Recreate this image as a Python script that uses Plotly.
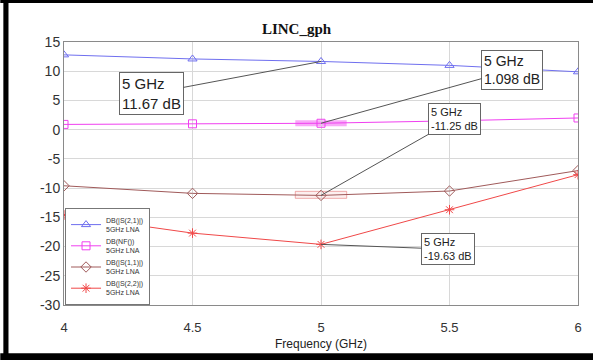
import plotly.graph_objects as go

freq = [4.0, 4.5, 5.0, 5.5, 6.0]
s21 = [12.8, 12.1, 11.67, 11.0, 9.9]
nf = [0.9, 1.0, 1.098, 1.5, 2.0]
s11 = [-9.6, -10.9, -11.25, -10.5, -7.0]
s22 = [-14.6, -17.7, -19.63, -13.7, -7.7]

names = ["DB(|S(2,1)|)<br>5GHz LNA", "DB(NF())<br>5GHz LNA",
         "DB(|S(1,1)|)<br>5GHz LNA", "DB(|S(2,2)|)<br>5GHz LNA"]
colors = ["#6f6fef", "#f040f0", "#a05a5a", "#f04848"]
symbols = ["triangle-up-open", "square-open", "diamond-open", "asterisk-open"]
series = [s21, nf, s11, s22]

ytick_vals = [15, 10, 5, 0, -5, -10, -15, -20, -25, -30]
ytick_text = ["15", "10", "5", "0", "-5", "-10", "-15", "-20", "-25", "-30"]
xtick_vals = [4, 4.5, 5, 5.5, 6]
xtick_text = ["4", "4.5", "5", "5.5", "6"]

marker_freq = 5.0
marker_labels = ["5 GHz<br>11.67 dB", "5 GHz<br>1.098 dB", "5 GHz<br>-11.25 dB", "5 GHz<br>-19.63 dB"]
marker_vals = [11.67, 1.098, -11.25, -19.63]
label_pos = [(4.34, 6.2), (5.745, 10.2), (5.52, 1.75), (5.494, -20.45)]
label_size = [15, 14, 11, 11]

fig = go.Figure()
for ys, nm, c, sym in zip(series, names, colors, symbols):
    fig.add_trace(go.Scatter(
        x=freq, y=ys, name=nm, mode="lines+markers",
        line=dict(color=c, width=1),
        marker=dict(symbol=sym, size=8, color=c, line=dict(color=c, width=1)),
    ))

# highlight bars at marker positions
fig.add_shape(type="rect", xref="x", yref="y", x0=4.9, x1=5.1, y0=nf[2] - 0.5, y1=nf[2] + 0.5,
              fillcolor="rgba(240,64,240,0.45)", line=dict(width=0), layer="below")
fig.add_shape(type="rect", xref="x", yref="y", x0=4.9, x1=5.1, y0=s11[2] - 0.5, y1=s11[2] + 0.7,
              fillcolor="rgba(240,120,120,0.12)", line=dict(color="rgba(230,120,120,0.6)", width=1), layer="below")

for (lx, ly), txt, v, fs in zip(label_pos, marker_labels, marker_vals, label_size):
    fig.add_annotation(x=marker_freq, y=v, xref="x", yref="y", ax=lx, ay=ly, axref="x", ayref="y",
                       text=txt, showarrow=True, arrowhead=0, arrowwidth=1, arrowcolor="#555555",
                       standoff=0, startstandoff=0,
                       font=dict(family="Liberation Sans, Arial", size=fs, color="#222222"),
                       align="left", bgcolor="white", borderpad=2, borderwidth=1, bordercolor="#666666")

# outer frame lines
fig.add_shape(type="rect", xref="paper", yref="paper", x0=-0.124, x1=1.03, y0=1.148, y1=1.162,
              fillcolor="black", line=dict(width=0))
fig.add_shape(type="rect", xref="paper", yref="paper", x0=-0.124, x1=1.03, y0=-0.21, y1=-0.183,
              fillcolor="black", line=dict(width=0))
fig.add_shape(type="rect", xref="paper", yref="paper", x0=-0.118, x1=-0.108, y0=-0.21, y1=1.162,
              fillcolor="black", line=dict(width=0))

fig.update_layout(
    width=593, height=360,
    margin=dict(l=64, r=11, t=42, b=54),
    paper_bgcolor="white", plot_bgcolor="white",
    title=dict(text="<b>LINC_gph</b>", x=0.5, xanchor="center", y=0.92, yanchor="middle",
               font=dict(family="Liberation Serif, Times New Roman", size=15, color="#111111")),
    font=dict(family="Liberation Sans, Arial", color="#333333"),
    showlegend=True,
    legend=dict(x=0.002, y=0.0, xanchor="left", yanchor="bottom",
                bgcolor="white", bordercolor="#777777", borderwidth=1,
                font=dict(size=7, color="#333333"), itemwidth=30,
                tracegroupgap=0),
    xaxis=dict(range=[4, 6], tickvals=xtick_vals, ticktext=xtick_text,
               showgrid=True, gridcolor="#d8d8d8", gridwidth=1, zeroline=False,
               showline=True, linecolor="#8a8a8a", mirror=True, ticks="",
               ticklabelstandoff=10,
               tickfont=dict(size=13, color="#333333"),
               title=dict(text="Frequency (GHz)", font=dict(size=12, color="#222222"), standoff=6)),
    yaxis=dict(range=[-30, 15], tickvals=ytick_vals, ticktext=ytick_text,
               showgrid=True, gridcolor="#d8d8d8", gridwidth=1, zeroline=False,
               showline=True, linecolor="#8a8a8a", mirror=True, ticks="",
               tickfont=dict(size=14, color="#333333")),
)

fig.write_html("out.html")
